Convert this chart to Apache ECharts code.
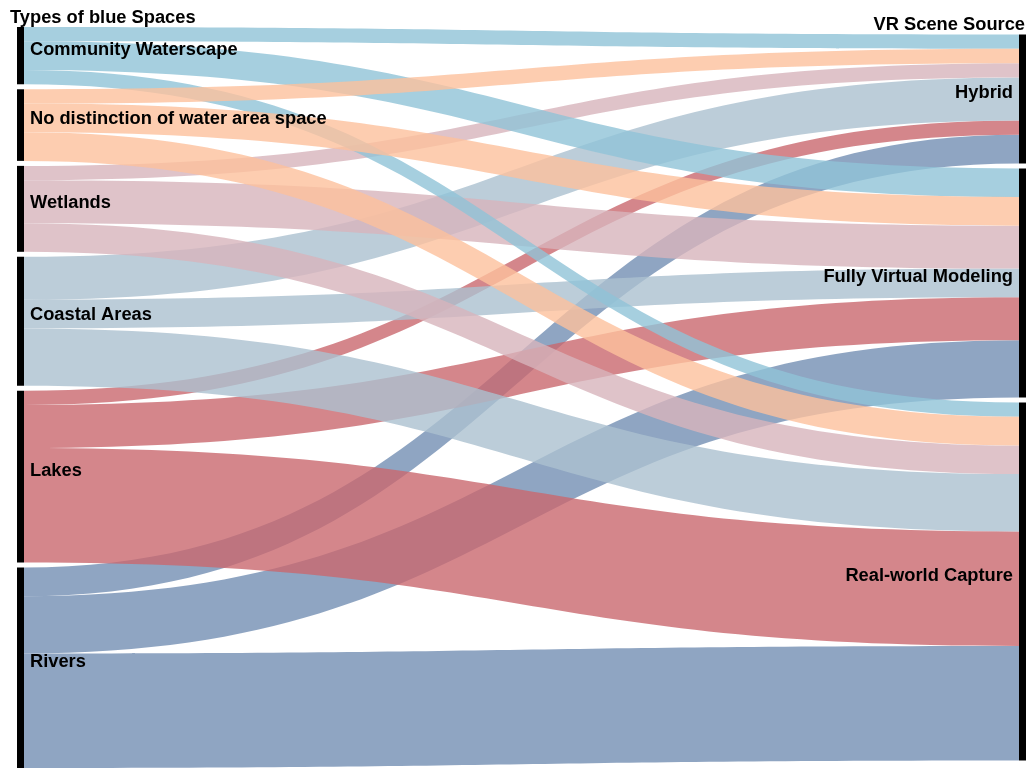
<!DOCTYPE html>
<html>
<head>
<meta charset="utf-8">
<title>Blue spaces and VR scene source</title>
<script src="https://cdn.jsdelivr.net/npm/echarts@6/dist/echarts.min.js"></script>
<style>
  html, body { margin: 0; padding: 0; background: #fff; }
  #chart { width: 1034px; height: 777px; }
</style>
</head>
<body>
<div id="chart"></div>
<script>
// left column, top to bottom
var sourceNames = ['Community Waterscape', 'No distinction of water area space', 'Wetlands',
                   'Coastal Areas', 'Lakes', 'Rivers'];
// right column, top to bottom
var targetNames = ['Hybrid', 'Fully Virtual Modeling', 'Real-world Capture'];

// number of studies per source, in targetNames order
var communityValues = [1, 2, 1];
var noDistinctionValues = [1, 2, 2];
var wetlandsValues = [1, 3, 2];
var coastalValues = [3, 2, 4];
var lakesValues = [1, 3, 8];
var riversValues = [2, 4, 8];

var sourceColors = ['#90c3d7', '#fcc09c', '#d7b4bb', '#abc0cf', '#c9686e', '#738eb3'];
// links get painted in this source order (later ones sit on top)
var paintOrder = [5, 4, 3, 2, 0, 1];

var valuesBySource = [communityValues, noDistinctionValues, wetlandsValues,
                      coastalValues, lakesValues, riversValues];

var labelFont = '"Liberation Sans", Arial, Helvetica, sans-serif';
var boxTop = 27, boxBottom = 9, nodeGap = 5, chartHeight = 777;

// the right column is shorter than the left one, so centre it vertically
// (same thing the relaxation pass would do, without reshuffling the left column)
var boxHeight = chartHeight - boxTop - boxBottom;
var total = 0;
var targetTotals = targetNames.map(function () { return 0; });
valuesBySource.forEach(function (vals) {
    vals.forEach(function (v, t) { total += v; targetTotals[t] += v; });
});
var ky = (boxHeight - (sourceNames.length - 1) * nodeGap) / total;
var rightSpan = total * ky + (targetNames.length - 1) * nodeGap;
var yCursor = (boxHeight - rightSpan) / 2;

var nodes = [];
sourceNames.forEach(function (name) {
    nodes.push({name: name, label: {position: 'right'}});
});
targetNames.forEach(function (name, t) {
    nodes.push({name: name, localY: yCursor / boxHeight, label: {position: 'left'}});
    yCursor += targetTotals[t] * ky + nodeGap;
});

var links = [];
paintOrder.forEach(function (s) {
    valuesBySource[s].forEach(function (v, t) {
        links.push({
            source: sourceNames[s],
            target: targetNames[t],
            value: v,
            lineStyle: {color: sourceColors[s]}
        });
    });
});

var chart = echarts.init(document.getElementById('chart'));
chart.setOption({
    backgroundColor: '#fff',
    animation: false,
    graphic: [
        {
            type: 'text', x: 10, y: 18,
            style: {text: 'Types of blue Spaces', fill: '#000', fontSize: 18.3, fontWeight: 'bold',
                    fontFamily: labelFont, align: 'left', verticalAlign: 'middle'}
        },
        {
            type: 'text', x: 1025, y: 25,
            style: {text: 'VR Scene Source', fill: '#000', fontSize: 18.3, fontWeight: 'bold',
                    fontFamily: labelFont, align: 'right', verticalAlign: 'middle'}
        }
    ],
    series: [{
        type: 'sankey',
        left: 17,
        right: 8,
        top: boxTop,
        bottom: boxBottom,
        nodeWidth: 7,
        nodeGap: nodeGap,
        layoutIterations: 0,
        draggable: false,
        data: nodes,
        links: links,
        itemStyle: {color: '#000', borderWidth: 0},
        lineStyle: {opacity: 0.8, curveness: 0.5},
        label: {
            color: '#000',
            fontSize: 18.3,
            fontWeight: 'bold',
            fontFamily: labelFont,
            distance: 6,
            offset: [0, -6]
        },
        emphasis: {disabled: true}
    }]
});
</script>
</body>
</html>
